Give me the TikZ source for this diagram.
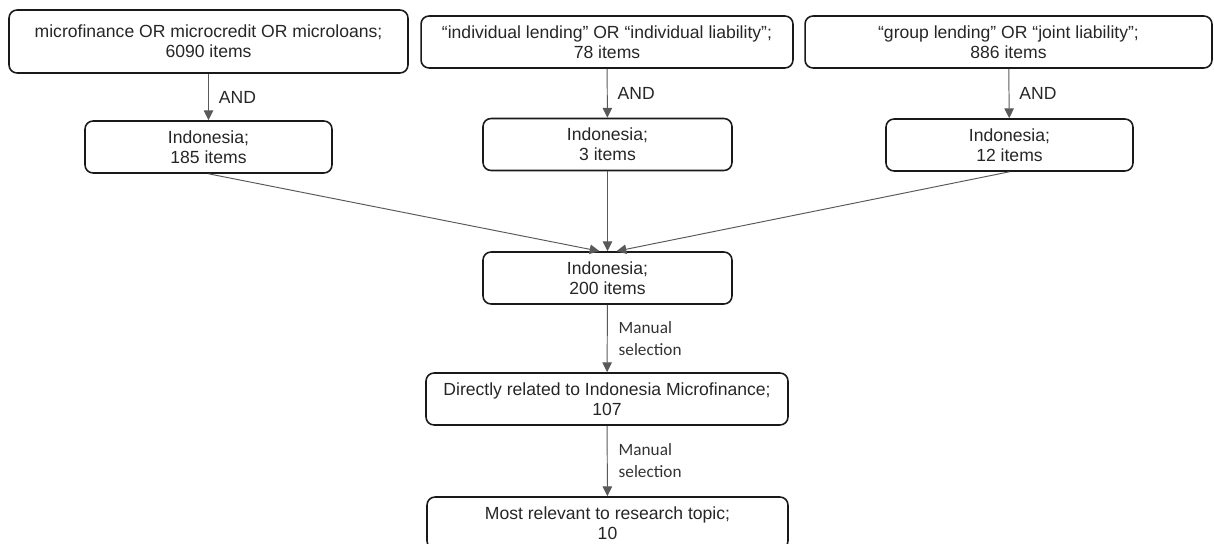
\documentclass[tikz,border=0pt]{standalone}
\usepackage{fontspec}
\setmainfont{Liberation Sans}
\newfontfamily\notefont{Carlito}
\usetikzlibrary{arrows.meta}

\tikzset{
    box/.style={draw=black!90, line width=0.9pt, rounded corners=0.16cm, align=center,
        inner sep=0pt, text=black!85, minimum height=1.04cm,
        font=\fontsize{10}{11.6}\selectfont},
    arr/.style={draw=black!65, line width=0.55pt, -{Triangle[length=5.6pt,width=5.4pt]}},
    lbl/.style={right, inner sep=0pt, xshift=0.2cm, text=black!85, font=\fontsize{10}{11.6}\selectfont},
    note/.style={right, inner sep=0pt, xshift=0.22cm, align=left, text=black!80, font=\notefont\fontsize{9.8}{12.5}\selectfont}
}

\begin{document}
\begin{tikzpicture}[x=0.02cm, y=-0.02cm]
            % page size of the reference
            \useasboundingbox (0,0) rectangle (1214,544);
            \clip (0,0) rectangle (1214,544);

            % search queries
            \node[box, minimum width=7.98cm, minimum height=1.26cm] (query1) at (208.5,41.5)
                {microfinance OR microcredit OR microloans;\\6090 items};
            \node[box, minimum width=7.44cm] (query2) at (607,42)
                {``individual lending'' OR ``individual liability'';\\78 items};
            \node[box, minimum width=8.14cm] (query3) at (1008.5,42)
                {``group lending'' OR ``joint liability'';\\886 items};

            % restricted to Indonesia
            \node[box, minimum width=4.94cm] (indo1) at (208.5,147) {Indonesia;\\185 items};
            \node[box, minimum width=4.98cm] (indo2) at (607.5,144.5) {Indonesia;\\3 items};
            \node[box, minimum width=4.94cm] (indo3) at (1009.5,145) {Indonesia;\\12 items};

            \node[box, minimum width=4.98cm] (total) at (607.5,278) {Indonesia;\\200 items};
            \node[box, minimum width=7.24cm] (related) at (607,399)
                {Directly related to Indonesia Microfinance;\\107};
            \node[box, minimum width=7.22cm] (relevant) at (607.5,523)
                {Most relevant to research topic;\\10};

            \draw[arr] (query1) -- node[lbl] {AND} (indo1);
            \draw[arr] (query2) -- node[lbl] {AND} (indo2);
            \draw[arr] (query3) -- node[lbl] {AND} (indo3);

            \draw[arr] (indo1.south) -- ([xshift=-0.16cm]total.north);
            \draw[arr] (indo2) -- (total);
            \draw[arr] (indo3.south) -- ([xshift=0.18cm]total.north);

            \draw[arr] (total) -- node[note] {Manual\\selection} (related);
            \draw[arr] (related) -- node[note] {Manual\\selection} (relevant);
        \end{tikzpicture}
\end{document}
